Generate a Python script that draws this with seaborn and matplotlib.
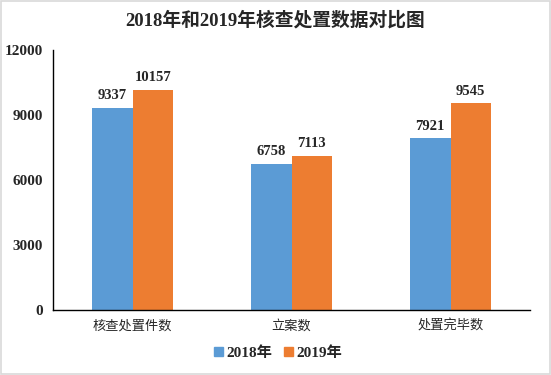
import pandas as pd
import matplotlib.pyplot as plt
import seaborn as sns
from matplotlib.patches import Rectangle

categories = ['核查处置件数', '立案数', '处置完毕数']
years = ['2018年', '2019年']
values_2018 = [9337, 6758, 7921]
values_2019 = [10157, 7113, 9545]
colors = ['#5B9BD5', '#ED7D31']

df = pd.DataFrame({
    'category': categories * 2,
    'year': [years[0]] * 3 + [years[1]] * 3,
    'value': values_2018 + values_2019,
})

sns.set_theme(style='white')
plt.rcParams['font.family'] = ['Liberation Serif', 'Noto Sans CJK SC', 'DejaVu Sans']

fig = plt.figure(figsize=(5.51, 3.75), dpi=100)
ax = fig.add_axes([53 / 551, 1 - 310 / 375, 477 / 551, 260 / 375])

sns.barplot(data=df, x='category', y='value', hue='year', palette=colors,
            width=0.51, saturation=1, linewidth=0, ax=ax, legend=False)

for container in ax.containers:
    ax.bar_label(container, fmt='%d', padding=4, fontsize=10.5, fontweight='bold',
                 family='Liberation Serif')

ax.set_ylim(0, 12000)
ax.set_yticks([0, 3000, 6000, 9000, 12000])
ax.set_xlim(-0.5, 2.5)
ax.set_xlabel('')
ax.set_ylabel('')
for lbl in ax.get_yticklabels():
    lbl.set_fontweight('bold')
    lbl.set_fontsize(11)
    lbl.set_family('Liberation Serif')
for lbl in ax.get_xticklabels():
    lbl.set_family(['Noto Sans CJK SC'])
    lbl.set_fontsize(9.5)
ax.tick_params(axis='x', length=0, pad=7)
ax.tick_params(axis='y', length=0, pad=7)

for side in ['top', 'right']:
    ax.spines[side].set_visible(False)
for side in ['left', 'bottom']:
    ax.spines[side].set_color('black')
    ax.spines[side].set_linewidth(1)

handles = [Rectangle((0, 0), 1, 1, color=c) for c in colors]
leg = fig.legend(handles, years, loc='center', bbox_to_anchor=(278 / 551, 1 - 353 / 375),
                 ncol=2, frameon=False, handlelength=0.6, handleheight=0.6,
                 handletextpad=0.2, columnspacing=0.8,
                 prop={'family': ['Liberation Serif', 'Noto Sans CJK SC'],
                       'weight': 'bold', 'size': 11})

fig.text(0.5, 1 - 20 / 375, '2018年和2019年核查处置数据对比图', ha='center', va='center',
         fontsize=13.5, fontweight='bold',
         family=['Liberation Serif', 'Noto Sans CJK SC'])

fig.patches.append(Rectangle((0.002, 0.003), 0.996, 0.994, transform=fig.transFigure,
                             fill=False, edgecolor='#D9D9D9', linewidth=1.2))

fig.savefig('out.png', dpi=100)
